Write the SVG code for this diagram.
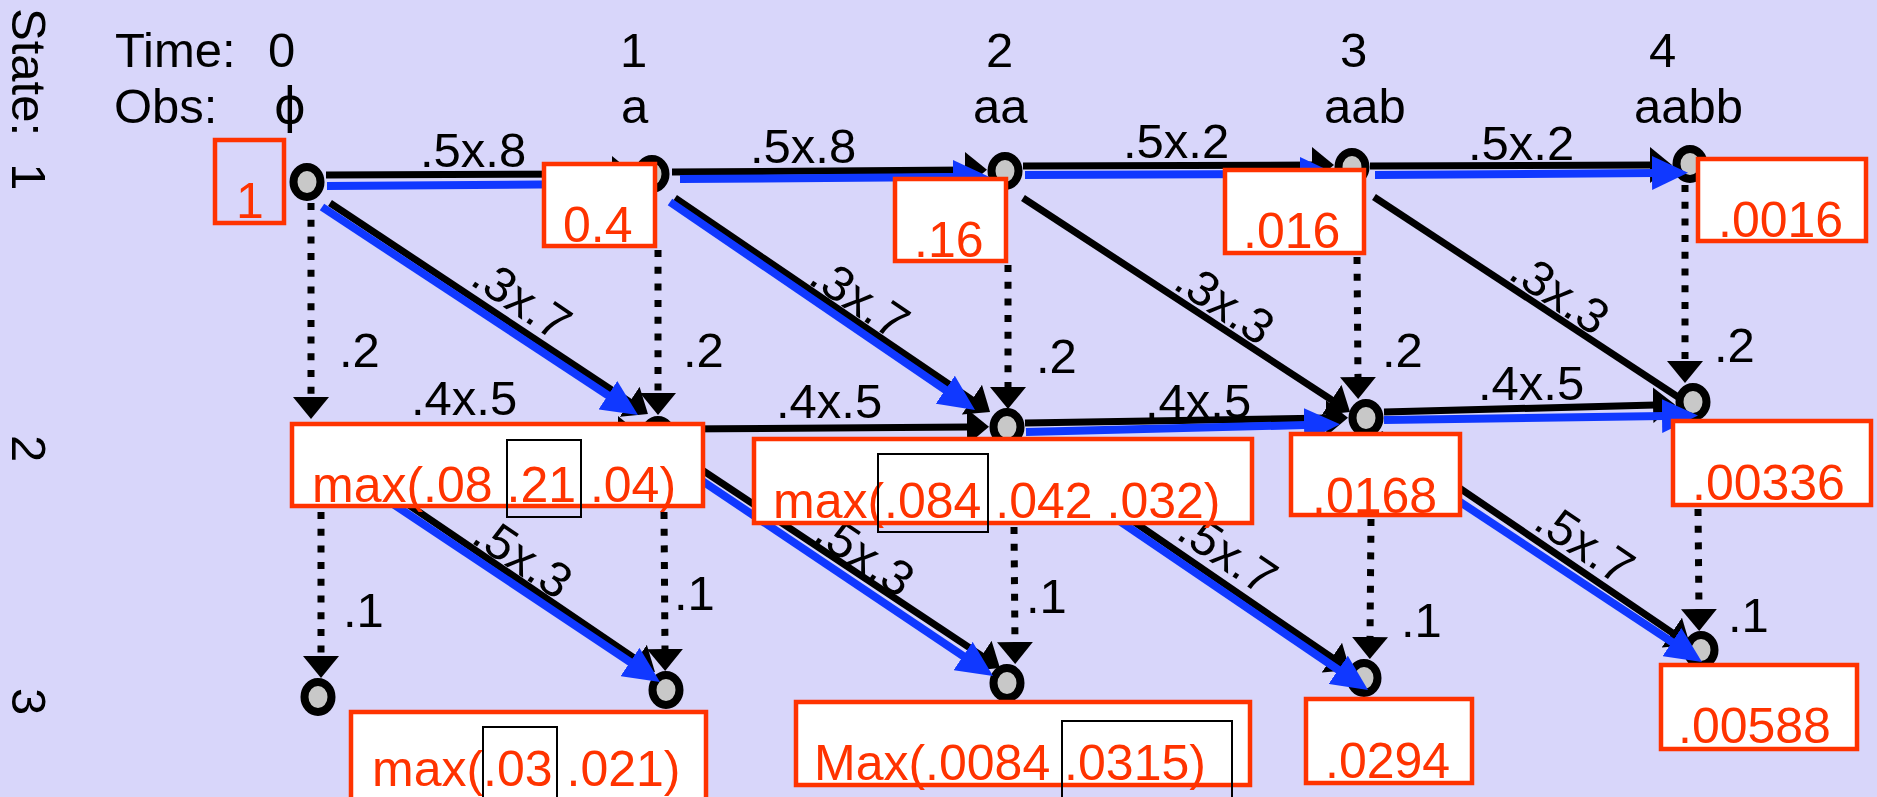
<svg xmlns="http://www.w3.org/2000/svg" width="1877" height="797" viewBox="0 0 1877 797">
<defs>
<style>
text { font-family: "Liberation Sans", Arial, sans-serif; }
.lbl { font-size: 49px; fill: #000; }
.val { font-size: 50px; fill: #FF3300; }
.node { fill: #C8C8C8; stroke: #000; stroke-width: 8; }
.blk { fill: none; stroke: #000; stroke-width: 7; }
.arr { marker-end: url(#ab); }
.dot { fill: none; stroke: #000; stroke-width: 7; stroke-dasharray: 7 9.7; marker-end: url(#ab); }
.blue { fill: none; stroke: #1038FF; stroke-width: 8; marker-end: url(#au); }
.box { fill: #fff; stroke: #FF3300; stroke-width: 4.5; }
.inner { fill: none; stroke: #000; stroke-width: 2; }
</style>
<marker id="ab" viewBox="0 0 22 36" markerWidth="22" markerHeight="36" refX="2" refY="18" orient="auto" markerUnits="userSpaceOnUse"><path d="M0,0 L22,18 L0,36 z" fill="#000"/></marker>
<marker id="au" viewBox="0 0 36 34" markerWidth="36" markerHeight="34" refX="2" refY="17" orient="auto" markerUnits="userSpaceOnUse"><path d="M0,0 L36,17 L0,34 z" fill="#1038FF"/></marker>
</defs>
<rect x="0" y="0" width="1877" height="797" fill="#D8D6FA"/>

<g id="headers" class="lbl">
<text class="lbl" transform="translate(12,8) rotate(90)" xml:space="preserve">State:  1</text>
<text class="lbl" transform="translate(12,435) rotate(90)">2</text>
<text class="lbl" transform="translate(12,688) rotate(90)">3</text>
<text class="lbl" x="115" y="67">Time:</text>
<text class="lbl" x="268" y="67">0</text>
<text class="lbl" x="114" y="123">Obs:</text>
<text class="lbl" x="290" y="123" text-anchor="middle" style="font-family:'DejaVu Sans','Liberation Sans',sans-serif">ϕ</text>
<text class="lbl" x="620" y="67">1</text>
<text class="lbl" x="621" y="123">a</text>
<text class="lbl" x="986" y="67">2</text>
<text class="lbl" x="973" y="123">aa</text>
<text class="lbl" x="1340" y="67">3</text>
<text class="lbl" x="1324" y="123">aab</text>
<text class="lbl" x="1649" y="67">4</text>
<text class="lbl" x="1634" y="123">aabb</text>
</g>

<g id="nodes">
<g id="s1t0"><ellipse class="node" cx="307" cy="182" rx="13.5" ry="15"/></g>
<g id="s1t1"><ellipse class="node" cx="652" cy="174" rx="13.5" ry="15"/></g>
<g id="s1t2"><ellipse class="node" cx="1005" cy="171" rx="13.5" ry="15"/></g>
<g id="s1t3"><ellipse class="node" cx="1352" cy="167" rx="13.5" ry="15"/></g>
<g id="s1t4"><ellipse class="node" cx="1690" cy="164" rx="13.5" ry="15"/></g>
<g id="s2t0"><ellipse class="node" cx="316" cy="442" rx="13.5" ry="15"/></g>
<g id="s2t1"><ellipse class="node" cx="658" cy="435" rx="13.5" ry="15"/></g>
<g id="s2t2"><ellipse class="node" cx="1007" cy="427" rx="13.5" ry="15"/></g>
<g id="s2t3"><ellipse class="node" cx="1366" cy="418" rx="13.5" ry="15"/></g>
<g id="s2t4"><ellipse class="node" cx="1693" cy="402" rx="13.5" ry="15"/></g>
<g id="s3t0"><ellipse class="node" cx="318" cy="697" rx="13.5" ry="15"/></g>
<g id="s3t1"><ellipse class="node" cx="666" cy="690" rx="13.5" ry="15"/></g>
<g id="s3t2"><ellipse class="node" cx="1007" cy="683" rx="13.5" ry="15"/></g>
<g id="s3t3"><ellipse class="node" cx="1364" cy="678" rx="13.5" ry="15"/></g>
<g id="s3t4"><ellipse class="node" cx="1701" cy="650" rx="13.5" ry="15"/></g>
</g>

<g id="connectors">
<path class="blk arr" d="M326,175 L614,174"/>
<path class="blk arr" d="M672,172 L967,170"/>
<path class="blk arr" d="M1023,166 L1314,165"/>
<path class="blk arr" d="M1370,166 L1652,165"/>
<path class="blk arr" d="M335,434 L620,434"/>
<path class="blk arr" d="M676,429 L969,427"/>
<path class="blk arr" d="M1025,423 L1328,418"/>
<path class="blk arr" d="M1384,412 L1655,405"/>
<path class="blk arr" d="M330,203 L631.3,402.9"/>
<path class="blk arr" d="M675,198 L973.5,400.8"/>
<path class="blk arr" d="M1023,198 L1333.3,401"/>
<path class="blk" d="M1374,197 L1678,397"/>
<path class="blk arr" d="M335,455 L638.4,660.8"/>
<path class="blk arr" d="M672,450 L983.3,656.9"/>
<path class="blk arr" d="M1022,445 L1333.5,658.7"/>
<path class="blk arr" d="M1380,434 L1673.5,633.7"/>
<path class="dot" d="M311,203 L311,399"/>
<path class="dot" d="M658,250 L658,395"/>
<path class="dot" d="M1008,265 L1008,389"/>
<path class="dot" d="M1357,257 L1358,379"/>
<path class="dot" d="M1685,185 L1685,363"/>
<path class="dot" d="M321,512 L321,658"/>
<path class="dot" d="M664,512 L665,651"/>
<path class="dot" d="M1014,527 L1015,644"/>
<path class="dot" d="M1371,519 L1370,639"/>
<path class="dot" d="M1698,509 L1699,611"/>
<path class="blue" d="M327,186 L600,184"/>
<path class="blue" d="M680,179 L955,177"/>
<path class="blue" d="M1025,175 L1302,174"/>
<path class="blue" d="M1375,175 L1654,173"/>
<path class="blue" d="M1026,432 L1306,425"/>
<path class="blue" d="M1384,420 L1664,416"/>
<path class="blue" d="M322,207 L609.6,396.3"/>
<path class="blue" d="M670,202 L946.9,390.9"/>
<path class="blue" d="M330,462 L631.7,663.1"/>
<path class="blue" d="M668,458 L964.8,657.1"/>
<path class="blue" d="M1015,450 L1339.9,670.9"/>
<path class="blue" d="M1380,449 L1673.6,643.2"/>
<text class="lbl" x="420" y="167">.5x.8</text>
<text class="lbl" x="750" y="163">.5x.8</text>
<text class="lbl" x="1123" y="158">.5x.2</text>
<text class="lbl" x="1468" y="160">.5x.2</text>
<text class="lbl" x="411" y="415">.4x.5</text>
<text class="lbl" x="776" y="418">.4x.5</text>
<text class="lbl" x="1145" y="418">.4x.5</text>
<text class="lbl" x="1478" y="400">.4x.5</text>
<text class="lbl" x="339" y="367">.2</text>
<text class="lbl" x="683" y="367">.2</text>
<text class="lbl" x="1036" y="373">.2</text>
<text class="lbl" x="1382" y="367">.2</text>
<text class="lbl" x="1714" y="362">.2</text>
<text class="lbl" x="343" y="627">.1</text>
<text class="lbl" x="674" y="610">.1</text>
<text class="lbl" x="1026" y="613">.1</text>
<text class="lbl" x="1401" y="637">.1</text>
<text class="lbl" x="1728" y="632">.1</text>
<text class="lbl" transform="translate(522,299) rotate(34)" x="0" y="17" text-anchor="middle">.3x.7</text>
<text class="lbl" transform="translate(860,298) rotate(34)" x="0" y="17" text-anchor="middle">.3x.7</text>
<text class="lbl" transform="translate(1225,303) rotate(34)" x="0" y="17" text-anchor="middle">.3x.3</text>
<text class="lbl" transform="translate(1560,293) rotate(34)" x="0" y="17" text-anchor="middle">.3x.3</text>
<text class="lbl" transform="translate(523,557) rotate(34)" x="0" y="17" text-anchor="middle">.5x.3</text>
<text class="lbl" transform="translate(865,555) rotate(34)" x="0" y="17" text-anchor="middle">.5x.3</text>
<text class="lbl" transform="translate(1228,553) rotate(34)" x="0" y="17" text-anchor="middle">.5x.7</text>
<text class="lbl" transform="translate(1585,543) rotate(34)" x="0" y="17" text-anchor="middle">.5x.7</text>
</g>

<g id="v-s1t0"><rect x="215" y="140" width="69" height="83" fill="none" stroke="#FF3300" stroke-width="4.5"/><text class="val" x="236" y="218">1</text></g>
<g id="v-s1t1"><rect class="box" x="544" y="164" width="111" height="82"/><text class="val" x="563" y="242">0.4</text></g>
<g id="v-s1t2"><rect class="box" x="895" y="179" width="111" height="82"/><text class="val" x="914" y="257">.16</text></g>
<g id="v-s1t3"><rect class="box" x="1225" y="170" width="139" height="83"/><text class="val" x="1243" y="248">.016</text></g>
<g id="v-s1t4"><rect class="box" x="1698" y="159" width="168" height="82"/><text class="val" x="1718" y="237">.0016</text></g>
<g id="v-s2t1"><rect class="box" x="292" y="424" width="411" height="82"/><text class="val" x="312" y="502">max(.08 .21 .04)</text><rect class="inner" x="507" y="440" width="74" height="77"/></g>
<g id="v-s2t2"><rect class="box" x="754" y="439" width="498" height="84"/><text class="val" x="773" y="518">max(.084 .042 .032)</text><rect class="inner" x="878" y="454" width="110" height="78"/></g>
<g id="v-s2t3"><rect class="box" x="1291" y="434" width="169" height="81"/><text class="val" x="1312" y="513">.0168</text></g>
<g id="v-s2t4"><rect class="box" x="1673" y="421" width="198" height="84"/><text class="val" x="1692" y="500">.00336</text></g>
<g id="v-s3t1"><rect class="box" x="351" y="712" width="355" height="95"/><text class="val" x="372" y="786">max(.03 .021)</text><rect class="inner" x="483" y="727" width="74" height="83"/></g>
<g id="v-s3t2"><rect class="box" x="796" y="702" width="454" height="83"/><text class="val" x="814" y="780">Max(.0084 .0315)</text><rect class="inner" x="1062" y="721" width="170" height="84"/></g>
<g id="v-s3t3"><rect class="box" x="1306" y="699" width="166" height="84"/><text class="val" x="1325" y="778">.0294</text></g>
<g id="v-s3t4"><rect class="box" x="1661" y="665" width="196" height="84"/><text class="val" x="1678" y="743">.00588</text></g>
</svg>
